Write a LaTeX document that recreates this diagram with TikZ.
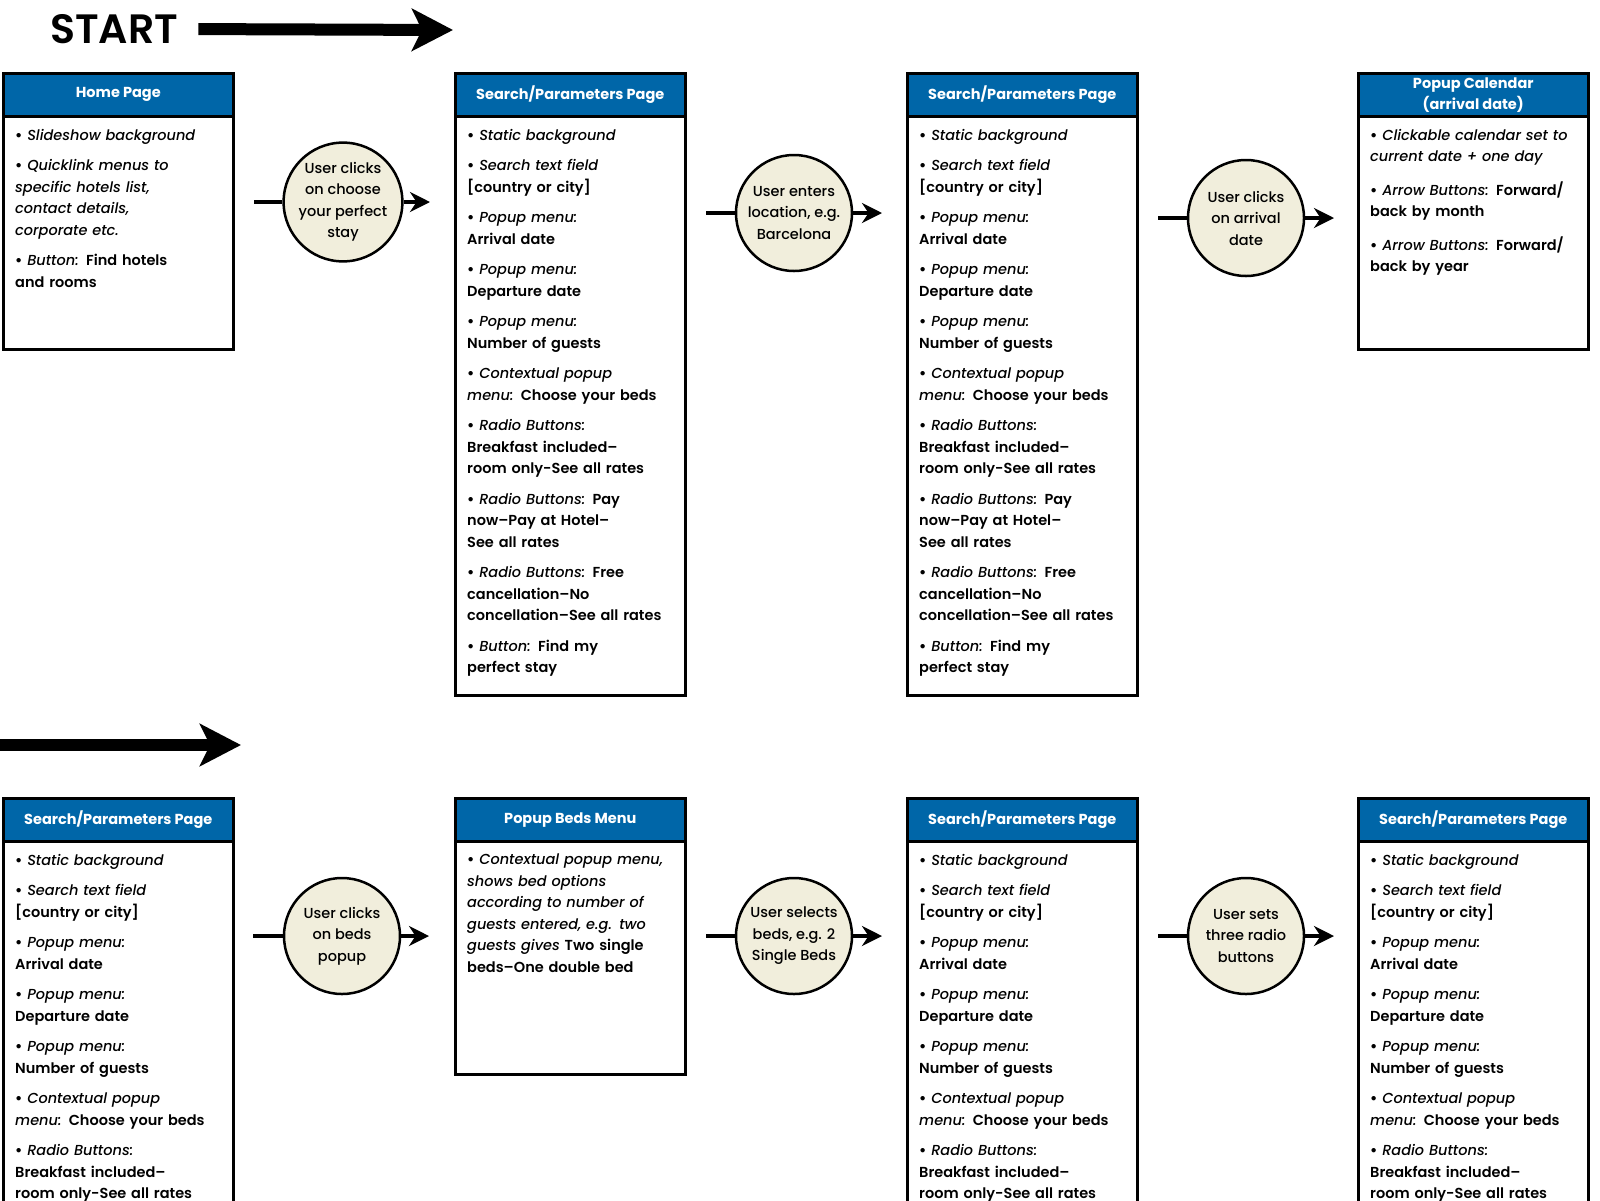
\documentclass[tikz,border=0pt]{standalone}
\usepackage{fontspec}
\setmainfont{Poppins}[UprightFont={Poppins Medium},ItalicFont={Poppins Medium Italic},BoldFont={Poppins SemiBold},BoldItalicFont={Poppins SemiBold Italic}]
\newfontfamily\heavyfont{Poppins Bold}
\usetikzlibrary{arrows.meta}
\begin{document}
\begin{tikzpicture}[x=1pt,y=-1pt]
\tikzstyle{pagebox}=[draw=black,line width=2.5pt,anchor=north west,minimum width=230pt,inner sep=0pt];
\tikzstyle{pagehead}=[draw=black,line width=2.5pt,fill=headblue,text=white,anchor=north,minimum width=230pt,minimum height=43pt,inner sep=0pt,align=center,font=\heavyfont\fontsize{14.5}{21}\selectfont];
\tikzstyle{pagetext}=[anchor=north west,text width=214pt,inner sep=0pt,align=left,font=\fontsize{14.5}{21.5}\selectfont];
\tikzstyle{action}=[circle,draw=black,line width=2.5pt,fill=cream,minimum size=116pt,inner sep=0pt,align=center,font=\fontsize{14.5}{21.5}\selectfont];
\tikzstyle{stub}=[line width=4.5pt];
\tikzstyle{flow}=[line width=4.5pt,-{Stealth[length=20pt,width=20pt]}];
\tikzstyle{bigflow}=[line width=12pt,-{Stealth[length=41pt,width=42pt,inset=10pt]}];

\definecolor{headblue}{RGB}{0,102,168}
\definecolor{cream}{RGB}{241,238,220}

\useasboundingbox (0,0) rectangle (1600,1200);
\clip (0,0) rectangle (1600,1200);

\def\gap{9pt}
\def\itm{{\heavyfont\textbullet}\ }
\def\searchtop{\itm\textit{Static background}\\[\gap]
\itm\textit{Search text field}\\\textbf{[country or city]}\\[\gap]
\itm\textit{Popup menu:}\\\textbf{Arrival date}\\[\gap]
\itm\textit{Popup menu:}\\\textbf{Departure date}\\[\gap]
\itm\textit{Popup menu:}\\\textbf{Number of guests}\\[\gap]
\itm\textit{Contextual popup}\\\textit{menu:} \textbf{Choose your beds}\\[\gap]
\itm\textit{Radio Buttons:}\\\textbf{Breakfast included--}\\\textbf{room only-See all rates}}
\def\searchrest{\itm\textit{Radio Buttons:} \textbf{Pay}\\\textbf{now--Pay at Hotel--}\\\textbf{See all rates}\\[\gap]
\itm\textit{Radio Buttons:} \textbf{Free}\\\textbf{cancellation--No}\\\textbf{concellation--See all rates}\\[\gap]
\itm\textit{Button:} \textbf{Find my}\\\textbf{perfect stay}}

% start arrows
\node[inner sep=0pt,anchor=west,font=\bfseries\fontsize{41}{41}\selectfont] (start) at (50,29) {START};
\coordinate (startend) at (453,30);
\draw[bigflow,shorten <=20pt] (start.east) -- (startend);
\coordinate (rowtwo) at (0,745);
\coordinate (rowtwoend) at (241,745);
\draw[bigflow] (rowtwo) -- (rowtwoend);

% row 1
\node[pagebox,minimum height=276pt] (home) at (2,72) {};
\node[pagehead] (homehead) at (home.north) {Home Page};
\node[pagetext] (hometext) at ([shift={(13,57)}]home.north west) {\itm\textit{Slideshow background}\\[\gap]
\itm\textit{Quicklink menus to}\\\textit{specific hotels list,}\\\textit{contact details,}\\\textit{corporate etc.}\\[\gap]
\itm\textit{Button:} \textbf{Find hotels}\\\textbf{and rooms}};

\node[pagebox,minimum height=622pt] (search1) at (454,72) {};
\node[pagehead] (search1head) at (search1.north) {Search/Parameters Page};
\node[pagetext] (search1text) at ([shift={(13,57)}]search1.north west) {\searchtop\\[\gap]\searchrest};

\node[pagebox,minimum height=622pt] (search2) at (906,72) {};
\node[pagehead] (search2head) at (search2.north) {Search/Parameters Page};
\node[pagetext] (search2text) at ([shift={(13,57)}]search2.north west) {\searchtop\\[\gap]\searchrest};

\node[pagebox,minimum height=276pt] (calendar) at (1357,72) {};
\node[pagehead] (calendarhead) at (calendar.north) {Popup Calendar\\(arrival date)};
\node[pagetext] (calendartext) at ([shift={(13,57)}]calendar.north west) {\itm\textit{Clickable calendar set to}\\\textit{current date + one day}\\[12pt]
\itm\textit{Arrow Buttons:} \textbf{Forward/}\\\textbf{back by month}\\[12pt]
\itm\textit{Arrow Buttons:} \textbf{Forward/}\\\textbf{back by year}};

\node[action] (act1) at (343,202) {User clicks\\on choose\\your perfect\\stay};
\node[action] (act2) at (794,213) {User enters\\location, e.g.\\Barcelona};
\node[action] (act3) at (1246,218) {User clicks\\on arrival\\date};

% row 2
\node[pagebox,minimum height=622pt] (search3) at (2,797) {};
\node[pagehead] (search3head) at (search3.north) {Search/Parameters Page};
\node[pagetext] (search3text) at ([shift={(13,57)}]search3.north west) {\searchtop};

\node[pagebox,minimum height=276pt] (beds) at (454,797) {};
\node[pagehead] (bedshead) at (beds.north) {Popup Beds Menu};
\node[pagetext] (bedstext) at ([shift={(13,57)}]beds.north west) {\itm\textit{Contextual popup menu,}\\\textit{shows bed options}\\\textit{according to number of}\\\textit{guests entered, e.g. two}\\\textit{guests gives} \textbf{Two single}\\\textbf{beds--One double bed}};

\node[pagebox,minimum height=622pt] (search4) at (906,797) {};
\node[pagehead] (search4head) at (search4.north) {Search/Parameters Page};
\node[pagetext] (search4text) at ([shift={(13,57)}]search4.north west) {\searchtop};

\node[pagebox,minimum height=622pt] (search5) at (1357,797) {};
\node[pagehead] (search5head) at (search5.north) {Search/Parameters Page};
\node[pagetext] (search5text) at ([shift={(13,57)}]search5.north west) {\searchtop};

\node[action] (act4) at (342,936) {User clicks\\on beds\\popup};
\node[action] (act5) at (794,936) {User selects\\beds, e.g. 2\\Single Beds};
\node[action] (act6) at (1246,936) {User sets\\three radio\\buttons};

% connectors
\coordinate (act1in) at (254,202); \coordinate (act1out) at (430,202);
\coordinate (act2in) at (706,213); \coordinate (act2out) at (882,213);
\coordinate (act3in) at (1158,218); \coordinate (act3out) at (1334,218);
\coordinate (act4in) at (253,936); \coordinate (act4out) at (429,936);
\coordinate (act5in) at (706,936); \coordinate (act5out) at (882,936);
\coordinate (act6in) at (1158,936); \coordinate (act6out) at (1334,936);
\draw[stub] (act1in) -- (act1.west); \draw[flow] (act1.east) -- (act1out);
\draw[stub] (act2in) -- (act2.west); \draw[flow] (act2.east) -- (act2out);
\draw[stub] (act3in) -- (act3.west); \draw[flow] (act3.east) -- (act3out);
\draw[stub] (act4in) -- (act4.west); \draw[flow] (act4.east) -- (act4out);
\draw[stub] (act5in) -- (act5.west); \draw[flow] (act5.east) -- (act5out);
\draw[stub] (act6in) -- (act6.west); \draw[flow] (act6.east) -- (act6out);

\end{tikzpicture}
\end{document}
